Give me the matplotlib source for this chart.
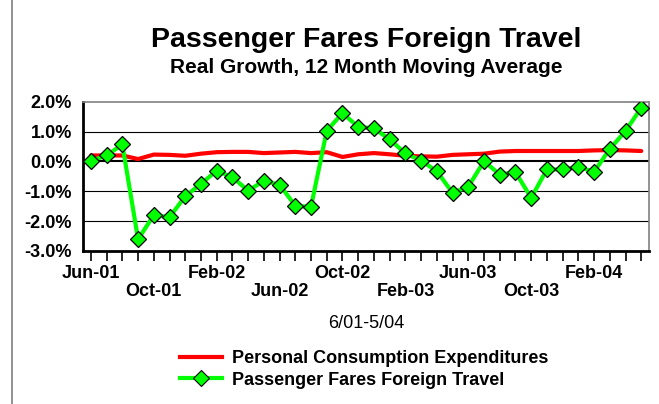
import numpy as np
import matplotlib.pyplot as plt
from matplotlib.lines import Line2D

plt.rcParams['font.family'] = ['Liberation Sans', 'DejaVu Sans']

months = ['Jun-01', 'Jul-01', 'Aug-01', 'Sep-01', 'Oct-01', 'Nov-01', 'Dec-01',
          'Jan-02', 'Feb-02', 'Mar-02', 'Apr-02', 'May-02', 'Jun-02', 'Jul-02',
          'Aug-02', 'Sep-02', 'Oct-02', 'Nov-02', 'Dec-02', 'Jan-03', 'Feb-03',
          'Mar-03', 'Apr-03', 'May-03', 'Jun-03', 'Jul-03', 'Aug-03', 'Sep-03',
          'Oct-03', 'Nov-03', 'Dec-03', 'Jan-04', 'Feb-04', 'Mar-04', 'Apr-04',
          'May-04']

pce = [0.20, 0.20, 0.20, 0.08, 0.23, 0.22, 0.19, 0.26, 0.31, 0.32, 0.32, 0.28,
       0.30, 0.32, 0.28, 0.31, 0.15, 0.24, 0.28, 0.24, 0.19, 0.17, 0.16, 0.22,
       0.24, 0.26, 0.33, 0.35, 0.35, 0.35, 0.35, 0.35, 0.37, 0.38, 0.37, 0.35]

fares = [0.02, 0.20, 0.57, -2.61, -1.80, -1.87, -1.17, -0.75, -0.31, -0.53,
         -0.98, -0.65, -0.78, -1.49, -1.52, 1.03, 1.62, 1.16, 1.11, 0.74, 0.27,
         0.03, -0.33, -1.05, -0.85, 0.01, -0.44, -0.36, -1.22, -0.27, -0.27,
         -0.18, -0.35, 0.42, 1.02, 1.80]

x = np.arange(len(months))

fig = plt.figure(figsize=(6.59, 4.04), dpi=100)
ax = fig.add_axes([0.126, 0.379, 0.859, 0.369])

ax.plot(x, pce, color='#ff0000', lw=3, solid_capstyle='round', zorder=3)
ax.plot(x, fares, color='#00ff00', lw=3, marker='D', markersize=8,
        markerfacecolor='#00ff00', markeredgecolor='black', markeredgewidth=0.9,
        zorder=4)

ax.set_xlim(-0.5, len(months) - 0.5)
ax.set_ylim(-3.0, 2.0)
ax.set_yticks(np.arange(-3, 2.01, 1.0))
ax.set_yticklabels([f'{v:.1f}%' for v in np.arange(-3, 2.01, 1.0)],
                   fontsize=13, fontweight='bold')
for v in [-2, -1, 1]:
    ax.axhline(v, color='black', lw=0.8, zorder=1)
ax.axhline(0, color='black', lw=1.5, zorder=2)

ax.set_xticks(x)
labels = []
for i, m in enumerate(months):
    if i % 8 == 0:
        labels.append(m)
    elif i % 8 == 4:
        labels.append('\n' + m)
    else:
        labels.append('')
ax.set_xticklabels(labels, fontsize=13, fontweight='bold', linespacing=1.1)
ax.tick_params(axis='x', direction='out', length=7, width=1.2, pad=3)
ax.tick_params(axis='y', length=0, pad=8)

for s in ['left', 'bottom']:
    ax.spines[s].set_linewidth(2)
    ax.spines[s].set_color('black')
for s in ['top', 'right']:
    ax.spines[s].set_linewidth(1.2)
    ax.spines[s].set_color('#808080')

fig.text(0.556, 0.9, 'Passenger Fares Foreign Travel', ha='center', va='center',
         fontsize=20.5, fontweight='bold')
fig.text(0.556, 0.832, 'Real Growth, 12 Month Moving Average', ha='center',
         va='center', fontsize=15, fontweight='bold')
fig.text(0.556, 0.2, '6/01-5/04', ha='center', va='center', fontsize=13)

# left border of the original frame
fig.add_artist(Line2D([0.018, 0.018], [0, 1], color='#808080', lw=1.2))

handles = [Line2D([], [], color='#ff0000', lw=3),
           Line2D([], [], color='#00ff00', lw=3, marker='D', markersize=8,
                  markerfacecolor='#00ff00', markeredgecolor='black',
                  markeredgewidth=0.8)]
fig.legend(handles, ['Personal Consumption Expenditures',
                     'Passenger Fares Foreign Travel'],
           loc='center', bbox_to_anchor=(0.553, 0.086), frameon=False,
           prop={'size': 13, 'weight': 'bold'}, handlelength=2.3,
           labelspacing=0.25, handletextpad=0.6)

fig.savefig('out.png', dpi=100)
